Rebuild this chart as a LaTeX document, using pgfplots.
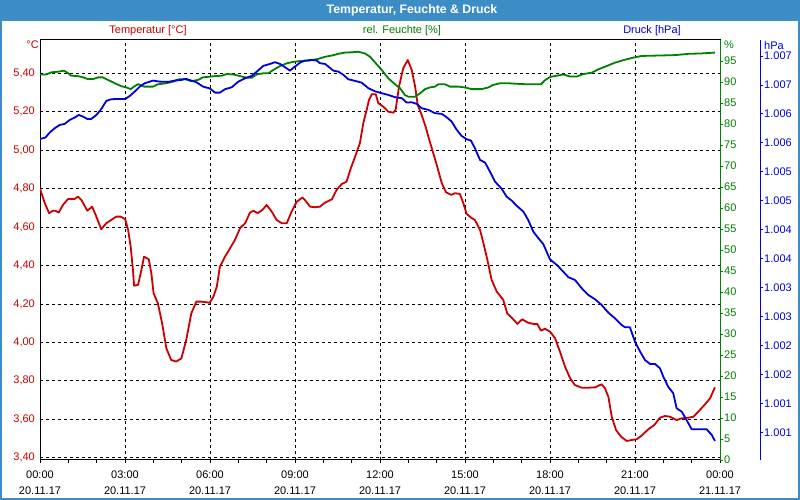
\documentclass[border=0pt]{standalone}
\usepackage{pgfplots}
\pgfplotsset{compat=1.18}
\usepackage{fontspec}
\setmainfont{Liberation Sans}
\definecolor{tblue}{RGB}{60,141,198}
\definecolor{tred}{RGB}{204,0,0}
\definecolor{hgreen}{RGB}{0,128,0}
\definecolor{pblue}{RGB}{0,0,220}
\begin{document}
\fontsize{11}{13}\selectfont
\begin{tikzpicture}[x=1pt,y=1pt]
\useasboundingbox (0,0) rectangle (800,500);
\fill[white] (0,0) rectangle (800,500);
\fill[tblue] (0,479) rectangle (800,500);
\node[white,font=\fontsize{12.3}{14}\selectfont\bfseries] at (412,490) {Temperatur, Feuchte \& Druck};
\node[tred] at (148,469) {Temperatur [°C]};
\node[hgreen] at (402,469) {rel. Feuchte [\%]};
\node[pblue] at (652,469) {Druck [hPa]};
\node[tred, anchor=east, inner sep=0pt] at (39,455) {°C};
\node[hgreen, anchor=west, inner sep=0pt] at (724,455) {\%};
\node[pblue, anchor=west, inner sep=0pt] at (764,454) {hPa};

% Temperature axis
\begin{axis}[
  at={(40pt,40pt)}, anchor=south west, scale only axis,
  width=680pt, height=420pt,
  xmin=0, xmax=24, ymin=3.388, ymax=5.573,
  axis line style={black, line width=1pt},
  xtick={0,3,6,9,12,15,18,21,24},
  minor x tick num=2,
  xtick pos=bottom, ytick pos=left,
  tick align=outside,
  major tick length=3pt, minor tick length=3pt,
  every tick/.style={black, line width=0.8pt},
  ytick style={draw=none},
  xticklabels={{00:00\\20.11.17},{03:00\\20.11.17},{06:00\\20.11.17},{09:00\\20.11.17},{12:00\\20.11.17},{15:00\\20.11.17},{18:00\\20.11.17},{21:00\\20.11.17},{00:00\\21.11.17}},
  xticklabel style={align=center, font=\fontsize{11}{15.5}\selectfont, black, yshift=-4pt},
  ytick={3.4,3.6,3.8,4.0,4.2,4.4,4.6,4.8,5.0,5.2,5.4},
  yticklabel style={tred, inner sep=2pt, /pgf/number format/.cd, fixed, fixed zerofill, precision=2, use comma},
  /pgf/number format/assume math mode=true,
  xmajorgrids, ymajorgrids,
  major grid style={black, line width=0.8pt, dash pattern=on 3pt off 3pt},
]
\addplot[tred, line width=1.8pt, line join=round] coordinates {
(0,4.80)(0.17,4.724)(0.32,4.672)(0.46,4.685)(0.54,4.685)(0.66,4.675)(0.81,4.715)(0.99,4.746)(1.22,4.746)(1.34,4.758)(1.46,4.741)(1.67,4.685)(1.84,4.706)(1.99,4.654)(2.16,4.588)(2.34,4.620)(2.52,4.637)(2.69,4.654)(2.85,4.654)(3.01,4.640)(3.11,4.585)(3.20,4.498)(3.28,4.377)(3.32,4.295)(3.46,4.299)(3.58,4.377)(3.67,4.446)(3.84,4.432)(3.93,4.359)(4.01,4.255)(4.16,4.203)(4.31,4.099)(4.46,3.969)(4.63,3.908)(4.81,3.900)(4.99,3.917)(5.16,4.012)(5.34,4.151)(5.52,4.212)(5.69,4.212)(5.99,4.206)(6.12,4.238)(6.24,4.290)(6.35,4.394)(6.53,4.446)(6.71,4.490)(6.88,4.533)(7.06,4.594)(7.24,4.620)(7.41,4.675)(7.53,4.685)(7.68,4.672)(7.85,4.689)(8.00,4.715)(8.18,4.680)(8.35,4.637)(8.53,4.620)(8.71,4.620)(8.88,4.680)(9.06,4.732)(9.26,4.753)(9.35,4.741)(9.53,4.706)(9.71,4.703)(9.88,4.706)(10.06,4.727)(10.30,4.744)(10.47,4.793)(10.65,4.824)(10.82,4.836)(10.97,4.906)(11.12,4.966)(11.29,5.036)(11.41,5.140)(11.53,5.209)(11.61,5.261)(11.71,5.291)(11.85,5.291)(11.94,5.244)(12.12,5.226)(12.29,5.200)(12.47,5.195)(12.55,5.209)(12.67,5.330)(12.82,5.426)(12.98,5.469)(13.12,5.417)(13.24,5.330)(13.33,5.235)(13.47,5.183)(13.61,5.122)(13.74,5.053)(13.88,4.984)(14.02,4.914)(14.18,4.828)(14.33,4.781)(14.51,4.767)(14.65,4.776)(14.82,4.772)(14.94,4.724)(15.06,4.668)(15.24,4.646)(15.35,4.637)(15.53,4.585)(15.65,4.516)(15.79,4.429)(15.94,4.325)(16.12,4.264)(16.35,4.221)(16.49,4.151)(16.67,4.125)(16.85,4.096)(17.02,4.120)(17.23,4.102)(17.41,4.096)(17.55,4.096)(17.68,4.061)(17.82,4.071)(18.00,4.056)(18.18,4.021)(18.35,3.952)(18.53,3.874)(18.71,3.813)(18.88,3.778)(19.12,3.764)(19.35,3.764)(19.59,3.766)(19.82,3.782)(19.94,3.761)(20.06,3.717)(20.18,3.613)(20.33,3.544)(20.51,3.509)(20.71,3.487)(20.88,3.492)(21.06,3.496)(21.26,3.518)(21.47,3.548)(21.68,3.570)(21.88,3.608)(22.06,3.617)(22.24,3.613)(22.47,3.596)(22.65,3.605)(22.88,3.608)(23.06,3.613)(23.23,3.639)(23.45,3.674)(23.65,3.709)(23.82,3.766)
};
\end{axis}

% Humidity axis
\begin{axis}[
  at={(40pt,40pt)}, anchor=south west, scale only axis,
  width=680pt, height=420pt,
  xmin=0, xmax=24, ymin=0, ymax=100,
  axis x line=none, axis y line*=right,
  y axis line style={hgreen, line width=1pt},
  ytick={0,5,...,95},
  tick align=outside, major tick length=3pt,
  ytick style={hgreen, line width=0.8pt},
  yticklabel style={hgreen, inner sep=1pt},
  /pgf/number format/assume math mode=true,
]
\addplot[hgreen, line width=1.8pt, line join=round] coordinates {
(0,91.8)(0.22,91.8)(0.40,92.3)(0.64,92.45)(0.85,92.7)(0.99,92.1)(1.10,91.5)(1.34,91.4)(1.52,91.1)(1.69,90.7)(1.87,90.7)(2.05,91.1)(2.22,91.1)(2.40,90.5)(2.64,89.7)(2.87,89.0)(3.05,88.7)(3.20,88.3)(3.34,89.0)(3.46,89.5)(3.67,88.9)(3.99,88.9)(4.16,89.45)(4.46,89.7)(4.69,90.07)(4.87,90.6)(5.11,90.7)(5.34,90.2)(5.58,90.5)(5.75,91.1)(6.18,91.4)(6.41,91.5)(6.59,91.9)(6.82,91.8)(7.06,91.4)(7.30,91.0)(7.47,91.0)(7.65,91.8)(7.88,92.07)(8.06,92.07)(8.23,92.86)(8.47,93.8)(8.71,94.45)(8.94,94.8)(9.18,95.0)(9.47,95.07)(9.82,95.5)(10.06,96.0)(10.30,96.3)(10.53,96.7)(10.76,97.0)(11.00,97.07)(11.23,97.2)(11.47,96.8)(11.65,96.0)(11.82,94.7)(12.06,92.86)(12.29,90.9)(12.53,89.45)(12.71,88.5)(12.88,86.9)(13.00,86.5)(13.24,86.5)(13.41,87.3)(13.59,88.3)(13.76,88.7)(13.94,88.9)(14.06,89.45)(14.29,89.45)(14.47,88.9)(14.76,88.9)(15.00,88.7)(15.24,88.3)(15.59,88.3)(15.82,88.7)(15.99,89.3)(16.24,89.7)(16.53,89.7)(17.00,89.5)(17.35,89.45)(17.68,89.45)(17.82,90.4)(18.00,91.2)(18.24,91.5)(18.47,91.8)(18.71,91.3)(18.94,91.3)(19.18,91.9)(19.47,92.2)(19.70,93.0)(20.00,93.8)(20.29,94.6)(20.59,95.2)(20.94,95.8)(21.24,96.2)(21.82,96.3)(22.41,96.4)(22.88,96.7)(23.35,96.8)(23.82,97.0)
};
\end{axis}

% Pressure axis (wider so its line sits at x=760)
\begin{axis}[
  at={(40pt,40pt)}, anchor=south west, scale only axis,
  width=720pt, height=420pt,
  xmin=0, xmax=25.4118, ymin=1000.329, ymax=1007.575,
  axis x line=none, axis y line*=right,
  y axis line style={pblue, line width=1pt},
  ytick={1000.8,1001.3,1001.8,1002.3,1002.8,1003.3,1003.8,1004.3,1004.8,1005.3,1005.8,1006.3,1006.8,1007.3},
  yticklabels={1.001,1.001,1.002,1.002,1.003,1.003,1.004,1.004,1.005,1.005,1.006,1.006,1.007,1.007},
  tick align=outside, major tick length=3pt,
  ytick style={pblue, line width=0.8pt},
  yticklabel style={pblue, inner sep=1pt},
]
\addplot[pblue, line width=1.8pt, line join=round] coordinates {
(0,1005.868)(0.19,1005.891)(0.34,1005.977)(0.52,1006.053)(0.70,1006.11)(0.87,1006.127)(1.05,1006.196)(1.22,1006.236)(1.37,1006.282)(1.52,1006.253)(1.67,1006.213)(1.81,1006.213)(1.99,1006.282)(2.16,1006.381)(2.34,1006.524)(2.52,1006.553)(2.75,1006.558)(3.01,1006.558)(3.17,1006.61)(3.34,1006.684)(3.52,1006.771)(3.70,1006.829)(3.99,1006.874)(4.22,1006.857)(4.52,1006.852)(4.75,1006.874)(4.99,1006.886)(5.16,1006.904)(5.34,1006.874)(5.52,1006.847)(5.75,1006.771)(5.99,1006.74)(6.18,1006.667)(6.35,1006.667)(6.53,1006.726)(6.77,1006.76)(7.00,1006.857)(7.24,1006.916)(7.47,1006.955)(7.65,1007.029)(7.88,1007.128)(8.12,1007.162)(8.29,1007.192)(8.47,1007.162)(8.65,1007.105)(8.82,1007.047)(9.00,1007.116)(9.18,1007.185)(9.35,1007.219)(9.59,1007.231)(9.77,1007.219)(9.88,1007.174)(10.06,1007.162)(10.18,1007.116)(10.35,1007.047)(10.53,1007.029)(10.71,1006.973)(10.88,1006.898)(11.12,1006.869)(11.35,1006.84)(11.59,1006.743)(11.82,1006.69)(12.06,1006.657)(12.29,1006.627)(12.53,1006.588)(12.77,1006.571)(12.94,1006.495)(13.12,1006.501)(13.30,1006.472)(13.47,1006.398)(13.71,1006.369)(13.94,1006.312)(14.18,1006.3)(14.35,1006.243)(14.53,1006.167)(14.71,1006.023)(14.88,1005.92)(15.06,1005.863)(15.21,1005.839)(15.35,1005.708)(15.53,1005.506)(15.71,1005.459)(15.88,1005.304)(16.06,1005.131)(16.30,1005.005)(16.47,1004.872)(16.65,1004.803)(16.82,1004.717)(17.06,1004.614)(17.23,1004.47)(17.41,1004.269)(17.59,1004.155)(17.76,1004.056)(18.00,1003.79)(18.24,1003.694)(18.41,1003.608)(18.65,1003.482)(18.88,1003.435)(19.12,1003.292)(19.35,1003.176)(19.59,1003.102)(19.82,1003.004)(20.06,1002.871)(20.29,1002.774)(20.53,1002.658)(20.65,1002.619)(20.82,1002.619)(21.00,1002.37)(21.18,1002.198)(21.35,1002.055)(21.53,1001.986)(21.71,1001.986)(21.88,1001.911)(22.00,1001.766)(22.17,1001.594)(22.35,1001.48)(22.47,1001.221)(22.65,1001.162)(22.82,1001.019)(23.00,1000.859)(23.23,1000.859)(23.53,1000.859)(23.71,1000.76)(23.82,1000.657)
};
\end{axis}
\draw[tblue, line width=2pt] (1,1) rectangle (799,500);
\end{tikzpicture}
\end{document}
